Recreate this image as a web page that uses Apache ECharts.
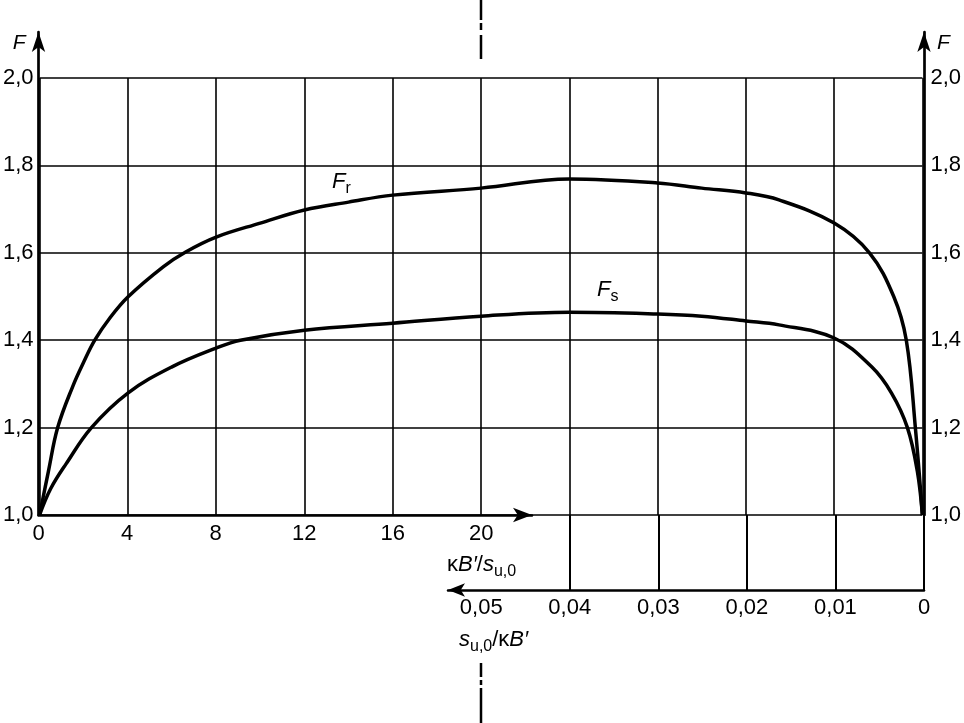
<!DOCTYPE html>
<html>
<head>
<meta charset="utf-8">
<script src="https://cdn.jsdelivr.net/npm/echarts@6/dist/echarts.min.js"></script>
<style>
  html, body { margin: 0; padding: 0; background: #fff; }
  #myChart { width: 964px; height: 723px; }
</style>
</head>
<body>
<div id="myChart"></div>
<script>
// x position: 0..24 reads as kB'/s_u,0, 24..40 as 40 - 400 * s_u,0/kB'
var frPos = [0, 0.4, 0.82, 1.5, 2.0, 2.5, 3.2, 4, 5.6, 6.62, 8, 10, 12, 14, 16, 20, 24, 28, 30, 32, 33.5, 36, 37.6, 38.7, 39.27, 39.68, 40];
var frVal = [1.0, 1.10, 1.20, 1.294, 1.35, 1.40, 1.452, 1.499, 1.568, 1.602, 1.636, 1.668, 1.698, 1.716, 1.732, 1.748, 1.769, 1.760, 1.748, 1.737, 1.721, 1.668, 1.60, 1.50, 1.40, 1.20, 1.0];
var fsPos = [0, 0.5, 1.2, 2.35, 4, 6, 8, 9.1, 12, 16, 20, 24, 28, 30, 32, 33.5, 36, 37.7, 38.6, 39.32, 39.77, 40];
var fsVal = [1.0, 1.06, 1.117, 1.20, 1.279, 1.339, 1.382, 1.40, 1.423, 1.439, 1.455, 1.464, 1.460, 1.455, 1.444, 1.435, 1.405, 1.339, 1.279, 1.20, 1.10, 1.0];
var topTicks = [0, 4, 8, 12, 16, 20];
var lowTicks = [0, 0.01, 0.02, 0.03, 0.04, 0.05];
var yTicks = [1.0, 1.2, 1.4, 1.6, 1.8, 2.0];

var black = '#000';
var font = "'Liberation Sans', Arial, sans-serif";

function has(list, v){
  return list.some(function(t){ return Math.abs(t - v) < 1e-6; });
}
function yLabel(v){
  return has(yTicks, v) ? v.toFixed(1).replace('.', ',') : '';
}
function topLabel(v){
  return has(topTicks, v) ? String(Math.round(v)) : '';
}
function lowLabel(v){
  if(!has(lowTicks, v)) return '';
  return v === 0 ? '0' : v.toFixed(2).replace('.', ',');
}
function pairs(xs, ys){
  return xs.map(function(x, i){ return [x, ys[i]]; });
}

var labelStyle = {color: black, fontSize: 22, fontFamily: font};
var rich = {
  i: {fontStyle: 'italic', fontSize: 22, fontFamily: font, fill: black},
  u: {fontSize: 22, fontFamily: font, fill: black},
  sub: {fontSize: 16, fontFamily: font, fill: black, padding: [13, 0, 0, 0]}
};

var option = {
  animation: false,
  backgroundColor: '#fff',
  grid: [
    {left: 38.5, right: 40, top: 78, height: 437},
    {left: 38.5, right: 40, top: 32, height: 483},
    {left: 38.5, top: 514, width: 493.5, height: 1},
    {left: 448, right: 40, top: 515, height: 75}
  ],
  xAxis: [
    {gridIndex: 0, type: 'value', min: 0, max: 40, interval: 4,
      axisLine: {show: false}, axisTick: {show: false}, axisLabel: {show: false},
      splitLine: {show: true, lineStyle: {color: black, width: 1.6}}},
    {gridIndex: 1, type: 'value', min: 0, max: 40, show: false},
    {gridIndex: 2, type: 'value', min: 0, max: 22.29, interval: 4,
      axisLine: {show: true, onZero: false, symbol: ['none', 'arrow'], symbolSize: [11, 19], lineStyle: {color: black, width: 2.5}},
      axisTick: {show: false}, splitLine: {show: false},
      axisLabel: Object.assign({formatter: topLabel, margin: 8}, labelStyle)},
    {gridIndex: 3, type: 'value', inverse: true, min: 0, max: 0.05375, interval: 0.01, position: 'bottom',
      axisLine: {show: true, onZero: false, symbol: ['arrow', 'none'], symbolSize: [10, 17], lineStyle: {color: black, width: 2.5}},
      axisTick: {show: false},
      splitLine: {show: true, showMaxLine: false, lineStyle: {color: [black, black, black, black, black, 'transparent', 'transparent'], width: 2}},
      axisLabel: Object.assign({formatter: lowLabel, margin: 7}, labelStyle)}
  ],
  yAxis: [
    {gridIndex: 0, type: 'value', min: 1, max: 2, interval: 0.2,
      axisLine: {show: false}, axisTick: {show: false},
      axisLabel: Object.assign({formatter: yLabel, margin: 6}, labelStyle),
      splitLine: {show: true, lineStyle: {color: black, width: 1.6}}},
    {gridIndex: 0, type: 'value', position: 'right', min: 1, max: 2, interval: 0.2,
      axisLine: {show: false}, axisTick: {show: false},
      axisLabel: Object.assign({formatter: yLabel, margin: 8}, labelStyle),
      splitLine: {show: false}},
    {gridIndex: 1, type: 'value', min: 1, max: 2.1053,
      axisLine: {show: true, onZero: false, symbol: ['none', 'arrow'], symbolSize: [10, 20], lineStyle: {color: black, width: 2.7}},
      axisTick: {show: false}, axisLabel: {show: false}, splitLine: {show: false},
      name: 'F', nameLocation: 'end', nameGap: -11,
      nameTextStyle: {color: black, fontSize: 21, fontStyle: 'italic', fontFamily: font, align: 'right', verticalAlign: 'middle', padding: [0, 13, 0, 0]}},
    {gridIndex: 1, type: 'value', position: 'right', min: 1, max: 2.1053,
      axisLine: {show: true, onZero: false, symbol: ['none', 'arrow'], symbolSize: [10, 20], lineStyle: {color: black, width: 2.7}},
      axisTick: {show: false}, axisLabel: {show: false}, splitLine: {show: false},
      name: 'F', nameLocation: 'end', nameGap: -11,
      nameTextStyle: {color: black, fontSize: 21, fontStyle: 'italic', fontFamily: font, align: 'left', verticalAlign: 'middle', padding: [0, 0, 0, 13]}},
    {gridIndex: 2, type: 'value', show: false},
    {gridIndex: 3, type: 'value', show: false}
  ],
  graphic: [
    {type: 'line', shape: {x1: 481, y1: 0, x2: 481, y2: 59}, style: {stroke: black, lineWidth: 2.5, lineDash: [20, 3, 7, 5, 24, 100]}},
    {type: 'line', shape: {x1: 481, y1: 663, x2: 481, y2: 723}, style: {stroke: black, lineWidth: 2.5, lineDash: [14, 3, 5, 3, 40, 10]}},
    {type: 'text', x: 447, y: 565, style: {text: '{u|κ}{i|B′}{u|/}{i|s}{sub|u,0}', rich: rich, textAlign: 'left', textVerticalAlign: 'middle'}},
    {type: 'text', x: 459, y: 640, style: {text: '{i|s}{sub|u,0}{u|/κ}{i|B′}', rich: rich, textAlign: 'left', textVerticalAlign: 'middle'}},
    {type: 'text', x: 332, y: 182, style: {text: '{i|F}{sub|r}', rich: rich, textAlign: 'left', textVerticalAlign: 'middle'}},
    {type: 'text', x: 597, y: 290, style: {text: '{i|F}{sub|s}', rich: rich, textAlign: 'left', textVerticalAlign: 'middle'}}
  ],
  series: [
    {name: 'Fr', type: 'line', xAxisIndex: 0, yAxisIndex: 0, data: pairs(frPos, frVal),
      smooth: 0.38, symbol: 'none', clip: false,
      lineStyle: {color: black, width: 3.5}},
    {name: 'Fs', type: 'line', xAxisIndex: 0, yAxisIndex: 0, data: pairs(fsPos, fsVal),
      smooth: 0.38, symbol: 'none', clip: false,
      lineStyle: {color: black, width: 3.5}}
  ]
};

var myChart = echarts.init(document.getElementById('myChart'));
myChart.setOption(option);
</script>
</body>
</html>
